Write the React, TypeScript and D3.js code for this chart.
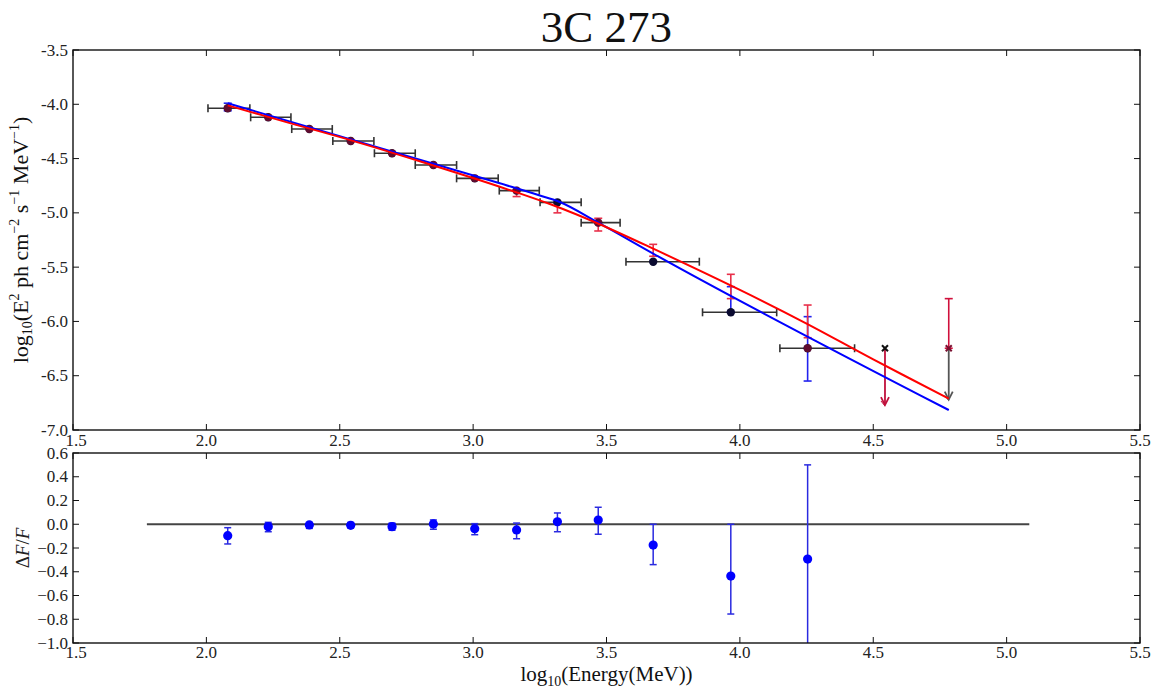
import React from "react";
import * as d3 from "d3";

// ---------- data ----------
const energyX = [2.08, 2.232, 2.386, 2.541, 2.696, 2.851, 3.006, 3.163, 3.316, 3.469, 3.675, 3.966, 4.254];
const fluxY = [-4.037, -4.12, -4.228, -4.338, -4.451, -4.559, -4.682, -4.795, -4.903, -5.09, -5.45, -5.916, -6.247];
const binLo = [2.006, 2.166, 2.32, 2.474, 2.63, 2.783, 2.938, 3.098, 3.251, 3.405, 3.573, 3.86, 4.15];
const binHi = [2.163, 2.317, 2.472, 2.628, 2.783, 2.938, 3.094, 3.248, 3.405, 3.551, 3.848, 4.138, 4.43];
// red series markers (null = not visible)
const redPointY: (number | null)[] = [-4.037, -4.12, -4.228, -4.338, -4.451, -4.559, -4.682, -4.795, null, -5.09, null, null, -6.247];
const redBarLo: (number | null)[] = [null, null, null, null, null, null, null, -4.85, -5.0, -5.167, -5.4, -5.79, -6.15];
const redBarHi: (number | null)[] = [null, null, null, null, null, null, null, -4.79, -4.91, -5.05, -5.29, -5.566, -5.849];
const blueBarLo: (number | null)[] = [-4.06, null, null, null, null, null, null, null, null, null, null, -5.916, -6.549];
const blueBarHi: (number | null)[] = [-3.99, null, null, null, null, null, null, null, null, null, null, -5.68, -5.956];

// upper limits
const ulX = [4.544, 4.783];
const ulY = [-6.247, -6.247];
const ulTip = [-6.77, -6.72];
const ulRedTop: (number | null)[] = [null, -5.79];

// model curves
const redCurveX = [2.08, 2.3, 2.54, 2.8, 3.1, 3.3, 3.47, 3.675, 4.0, 4.25, 4.5, 4.783];
const redCurveY = [-4.01, -4.164, -4.33, -4.525, -4.76, -4.93, -5.1, -5.33, -5.71, -6.02, -6.35, -6.71];
const blueCurveX = [2.08, 3.1, 3.25, 3.32, 3.469, 3.675, 4.783];
const blueCurveY = [-3.99, -4.728, -4.84, -4.895, -5.09, -5.375, -6.816];

// residuals
const resY = [-0.096, -0.02, -0.006, -0.009, -0.02, 0.003, -0.037, -0.048, 0.021, 0.036, -0.175, -0.436, -0.293];
const resLo = [-0.166, -0.063, -0.035, -0.03, -0.05, -0.042, -0.088, -0.122, -0.063, -0.084, -0.34, -0.756, -1.2];
const resHi = [-0.029, 0.016, 0.016, 0.015, 0.01, 0.036, 0.005, 0.01, 0.095, 0.143, 0.0, 0.0, 0.5];
const zeroLineX = [1.777, 5.085];

// ticks
const xTicks = [1.5, 2.0, 2.5, 3.0, 3.5, 4.0, 4.5, 5.0, 5.5];
const yTicksTop = [-3.5, -4.0, -4.5, -5.0, -5.5, -6.0, -6.5, -7.0];
const yTicksBot = [0.6, 0.4, 0.2, 0.0, -0.2, -0.4, -0.6, -0.8, -1.0];

const title = "3C 273";

// ---------- layout ----------
const W = 1153, H = 690;
const L = 73, R = 1140;
const topT = 50, topB = 430;
const botT = 453, botB = 643;
const FONT = "'Liberation Serif', 'Times New Roman', serif";

const x = d3.scaleLinear().domain([1.5, 5.5]).range([L, R]);
const yT = d3.scaleLinear().domain([-3.5, -7.0]).range([topT, topB]);
const yB = d3.scaleLinear().domain([0.6, -1.0]).range([botT, botB]);

const TL = 6;

function Frame({ t, b, yTicks, ys, fmt, xlabBase }: any) {
  return (
    <g>
      <rect x={L} y={t} width={R - L} height={b - t} fill="none" stroke="#111" strokeWidth={1.4} />
      {xTicks.map((v, i) => (
        <g key={"x" + i}>
          <line x1={x(v)} x2={x(v)} y1={t} y2={t + TL} stroke="#111" />
          <line x1={x(v)} x2={x(v)} y1={b} y2={b - TL} stroke="#111" />
          <text x={x(v) + (i === 0 ? 3 : 0)} y={xlabBase} textAnchor="middle" fontFamily={FONT} fontSize={17} fill="#222">
            {v.toFixed(1)}
          </text>
        </g>
      ))}
      {yTicks.map((v: number, i: number) => (
        <g key={"y" + i}>
          <line x1={L} x2={L + TL} y1={ys(v)} y2={ys(v)} stroke="#111" />
          <line x1={R} x2={R - TL} y1={ys(v)} y2={ys(v)} stroke="#111" />
          <text x={68} y={ys(v) + 5.5} textAnchor="end" fontFamily={FONT} fontSize={17} fill="#222">
            {fmt(v)}
          </text>
        </g>
      ))}
    </g>
  );
}

function VBar({ xv, lo, hi, ys, color, cap = 4, w = 1.6 }: any) {
  const px = x(xv);
  return (
    <g stroke={color} strokeWidth={w}>
      <line x1={px} x2={px} y1={ys(lo)} y2={ys(hi)} />
      <line x1={px - cap} x2={px + cap} y1={ys(lo)} y2={ys(lo)} />
      <line x1={px - cap} x2={px + cap} y1={ys(hi)} y2={ys(hi)} />
    </g>
  );
}

function Arrow({ xv, from, to, color }: any) {
  const px = x(xv);
  const y1 = yT(from), y2 = yT(to);
  return (
    <g stroke={color} strokeWidth={1.8} fill="none">
      <line x1={px} x2={px} y1={y1} y2={y2} />
      <path d={`M${px - 4},${y2 - 8} L${px},${y2} L${px + 4},${y2 - 8}`} />
      <path d={`M${px - 4},${y2 - 4} L${px},${y2 + 1}`} strokeWidth={1} />
    </g>
  );
}

export default function App() {
  const redLine = d3
    .line<number>()
    .x((_, i) => x(redCurveX[i]))
    .y((d) => yT(d))
    .curve(d3.curveCatmullRom)(redCurveY);
  const blueLine = d3
    .line<number>()
    .x((_, i) => x(blueCurveX[i]))
    .y((d) => yT(d))
    .curve(d3.curveMonotoneX)(blueCurveY);

  const fmtTop = (v: number) => (v < 0 ? "-" + Math.abs(v).toFixed(1) : v.toFixed(1));
  const fmtBot = (v: number) => (v < 0 ? "\u2212" + Math.abs(v).toFixed(1) : v.toFixed(1));

  return (
    <svg width={W} height={H} style={{ position: "absolute", left: 0, top: 0, background: "#fff" }}>
      <defs>
        <clipPath id="clipTop">
          <rect x={L} y={topT} width={R - L} height={topB - topT} />
        </clipPath>
        <clipPath id="clipBot">
          <rect x={L} y={botT} width={R - L} height={botB - botT} />
        </clipPath>
      </defs>
      <rect width={W} height={H} fill="#fff" />

      <text x={(L + R) / 2} y={42} textAnchor="middle" fontFamily={FONT} fontSize={45} fill="#111">
        {title}
      </text>

      {/* upper panel */}
      <g clipPath="url(#clipTop)">
        {/* x error bars */}
        {energyX.map((v, i) => (
          <g key={"xb" + i} stroke="#333" strokeWidth={1.6}>
            <line x1={x(binLo[i])} x2={x(binHi[i])} y1={yT(fluxY[i])} y2={yT(fluxY[i])} />
            <line x1={x(binLo[i])} x2={x(binLo[i])} y1={yT(fluxY[i]) - 4} y2={yT(fluxY[i]) + 4} />
            <line x1={x(binHi[i])} x2={x(binHi[i])} y1={yT(fluxY[i]) - 4} y2={yT(fluxY[i]) + 4} />
          </g>
        ))}
        {energyX.map((v, i) =>
          blueBarLo[i] != null ? (
            <VBar key={"bb" + i} xv={v} lo={blueBarLo[i]} hi={blueBarHi[i]} ys={yT} color="#2222ee" />
          ) : null
        )}
        {energyX.map((v, i) =>
          redBarLo[i] != null ? (
            <VBar key={"rb" + i} xv={v} lo={redBarLo[i]} hi={redBarHi[i]} ys={yT} color="#e8304a" />
          ) : null
        )}
        {/* upper limits */}
        {ulX.map((v, i) =>
          ulRedTop[i] != null ? (
            <VBar key={"ur" + i} xv={v} lo={ulY[i]} hi={ulRedTop[i]} ys={yT} color="#d0103c" />
          ) : null
        )}
        <Arrow xv={ulX[0]} from={ulY[0]} to={ulTip[0]} color="#c0103c" />
        <Arrow xv={ulX[1]} from={ulY[1]} to={ulTip[1]} color="#555" />
        {ulX.map((v, i) => (
          <g key={"ux" + i} stroke={i === 0 ? "#111" : "#7a1030"} strokeWidth={2}>
            <line x1={x(v) - 3} x2={x(v) + 3} y1={yT(ulY[i]) - 3} y2={yT(ulY[i]) + 3} />
            <line x1={x(v) - 3} x2={x(v) + 3} y1={yT(ulY[i]) + 3} y2={yT(ulY[i]) - 3} />
          </g>
        ))}
        {/* markers */}
        {energyX.map((v, i) => (
          <circle key={"m" + i} cx={x(v)} cy={yT(fluxY[i])} r={4.2} fill="#0a0a30" />
        ))}
        {energyX.map((v, i) =>
          redPointY[i] != null ? (
            <circle key={"rm" + i} cx={x(v)} cy={yT(redPointY[i] as number)} r={4} fill="#e01030" opacity={0.4} />
          ) : null
        )}
        {/* model lines */}
        <path d={blueLine || ""} fill="none" stroke="#0000ff" strokeWidth={2} />
        <path d={redLine || ""} fill="none" stroke="#ff0000" strokeWidth={2} />
      </g>
      <Frame t={topT} b={topB} yTicks={yTicksTop} ys={yT} fmt={fmtTop} xlabBase={446} />

      {/* lower panel */}
      <g clipPath="url(#clipBot)">
        <line x1={x(zeroLineX[0])} x2={x(zeroLineX[1])} y1={yB(0)} y2={yB(0)} stroke="#444" strokeWidth={2} />
        {energyX.map((v, i) => (
          <VBar key={"re" + i} xv={v} lo={resLo[i]} hi={resHi[i]} ys={yB} color="#2a2ae0" cap={3.5} w={1.5} />
        ))}
        {energyX.map((v, i) => (
          <circle key={"rp" + i} cx={x(v)} cy={yB(resY[i])} r={4.6} fill="#0000ff" />
        ))}
      </g>
      <Frame t={botT} b={botB} yTicks={yTicksBot} ys={yB} fmt={fmtBot} xlabBase={658} />

      {/* axis labels */}
      <text
        transform={`translate(28,${(topT + topB) / 2}) rotate(-90)`}
        textAnchor="middle"
        fontFamily={FONT}
        fontSize={22}
        fill="#111"
      >
        log<tspan fontSize={14} dy={4}>10</tspan>
        <tspan dy={-4}>(E</tspan>
        <tspan fontSize={14} dy={-9}>2</tspan>
        <tspan dy={9}> ph cm</tspan>
        <tspan fontSize={14} dy={-9}>−2</tspan>
        <tspan dy={9}> s</tspan>
        <tspan fontSize={14} dy={-9}>−1</tspan>
        <tspan dy={9}> MeV</tspan>
        <tspan fontSize={14} dy={-9}>−1</tspan>
        <tspan dy={9}>)</tspan>
      </text>
      <text
        transform={`translate(29,${(botT + botB) / 2}) rotate(-90)`}
        textAnchor="middle"
        fontFamily={FONT}
        fontSize={19}
        fill="#222"
      >
        Δ<tspan fontStyle="italic">F</tspan>/<tspan fontStyle="italic">F</tspan>
      </text>
      <text x={(L + R) / 2} y={681} textAnchor="middle" fontFamily={FONT} fontSize={21} fill="#111">
        log<tspan fontSize={14} dy={5}>10</tspan>
        <tspan dy={-5}>(Energy(MeV))</tspan>
      </text>
    </svg>
  );
}
